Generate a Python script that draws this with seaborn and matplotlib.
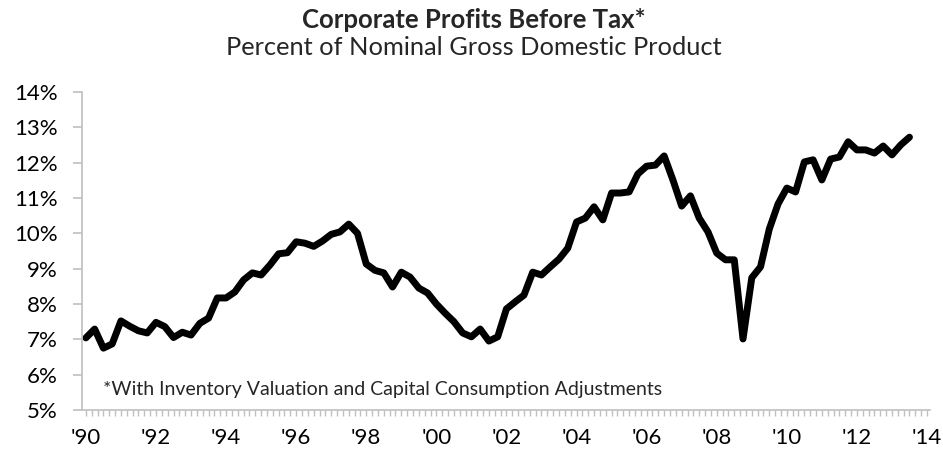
import numpy as np
import pandas as pd
import matplotlib
matplotlib.use("Agg")
import matplotlib.pyplot as plt
import seaborn as sns
from matplotlib.ticker import MultipleLocator, FuncFormatter

# corporate profits before tax (IVA + CCAdj), % of nominal GDP, quarterly 1990Q1-2013Q3
years = list(range(1990, 2014))
profits_pct = [
    7.04, 7.29, 6.75, 6.87,      # 1990
    7.52, 7.37, 7.24, 7.18,      # 1991
    7.48, 7.36, 7.05, 7.20,      # 1992
    7.12, 7.45, 7.60, 8.17,      # 1993
    8.17, 8.34, 8.68, 8.88,      # 1994
    8.82, 9.10, 9.42, 9.45,      # 1995
    9.76, 9.72, 9.63, 9.78,      # 1996
    9.97, 10.04, 10.26, 10.00,   # 1997
    9.13, 8.95, 8.88, 8.48,      # 1998
    8.90, 8.76, 8.45, 8.31,      # 1999
    8.00, 7.74, 7.50, 7.18,      # 2000
    7.07, 7.29, 6.95, 7.07,      # 2001
    7.86, 8.06, 8.25, 8.90,      # 2002
    8.82, 9.05, 9.27, 9.58,      # 2003
    10.32, 10.43, 10.75, 10.38,  # 2004
    11.14, 11.14, 11.17, 11.68,  # 2005
    11.90, 11.93, 12.19, 11.51,  # 2006
    10.77, 11.06, 10.43, 10.04,  # 2007
    9.44, 9.25, 9.25, 7.01,      # 2008
    8.74, 9.05, 10.12, 10.83,    # 2009
    11.28, 11.17, 12.02, 12.08,  # 2010
    11.51, 12.10, 12.16, 12.59,  # 2011
    12.36, 12.36, 12.27, 12.47,  # 2012
    12.22, 12.50, 12.72,         # 2013
]
tick_years = list(range(1990, 2015, 2))
tick_labels = ["'" + str(y)[2:] for y in tick_years]
y_ticks = list(range(5, 15))

# quarter -> fractional year
dates = [years[0] + i / 4 for i in range(len(profits_pct))]
df = pd.DataFrame({"date": dates, "pct": profits_pct})

sns.set_style("white")
plt.rcParams["font.family"] = ["Lato", "DejaVu Sans"]

GRAY = "#BFBFBF"

fig = plt.figure(figsize=(9.43, 4.53), dpi=100)
ax = fig.add_axes([0.087, 0.095, 0.899, 0.702])

sns.lineplot(data=df, x="date", y="pct", ax=ax, color="black", linewidth=5,
             estimator=None, solid_joinstyle="round", solid_capstyle="round")

ax.set_xlim(1989.89, 2014.08)
ax.set_ylim(5, 14)
ax.set_yticks(y_ticks)
ax.yaxis.set_major_formatter(FuncFormatter(lambda v, _: f"{v:.0f}%"))
ax.set_xticks(tick_years)
ax.set_xticklabels(tick_labels)
ax.xaxis.set_minor_locator(MultipleLocator(1 / 6))

for side in ["top", "right"]:
    ax.spines[side].set_visible(False)
for side in ["left", "bottom"]:
    ax.spines[side].set_color(GRAY)
    ax.spines[side].set_linewidth(1.2)

ax.tick_params(axis="y", which="major", left=True, direction="out", length=6.5,
               width=1.2, color=GRAY, labelsize=16, pad=11, labelcolor="black")
ax.tick_params(axis="x", which="both", bottom=True, direction="out", length=4,
               width=1.0, color=GRAY, labelsize=16, pad=9, labelcolor="black")
ax.set_xlabel("")
ax.set_ylabel("")

ax.text(0.025, 0.063, "*With Inventory Valuation and Capital Consumption Adjustments",
        transform=ax.transAxes, fontsize=14, va="center", ha="left")

fig.text(0.502, 0.955, "Corporate Profits Before Tax*", ha="center", va="center",
         fontsize=18.5, fontweight="bold")
fig.text(0.502, 0.896, "Percent of Nominal Gross Domestic Product", ha="center",
         va="center", fontsize=18.3)

fig.savefig("out.png", dpi=100)
